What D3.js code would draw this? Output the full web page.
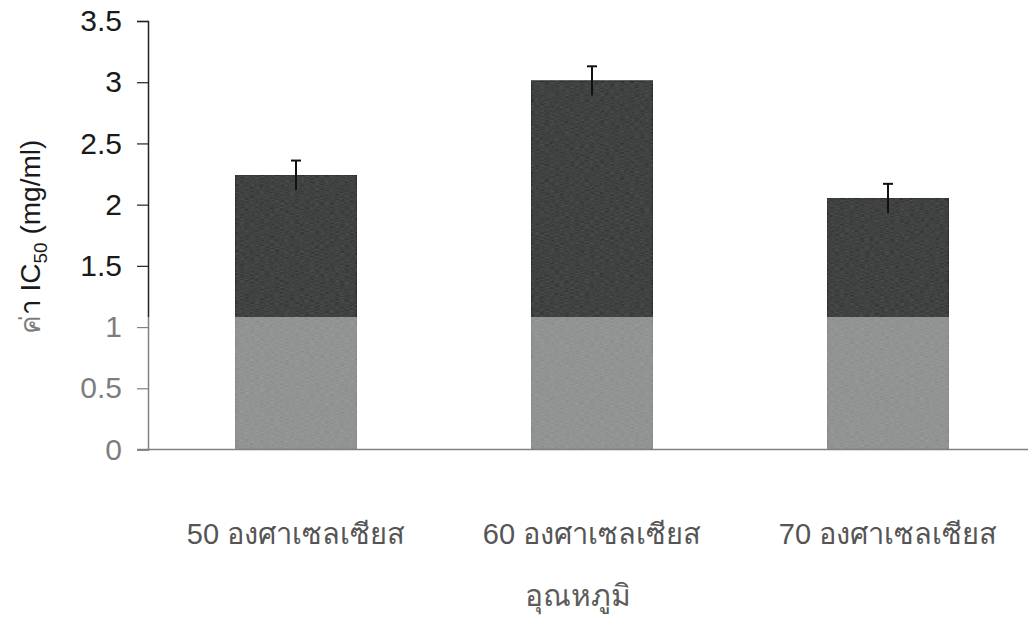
<!DOCTYPE html>
<html>
<head>
<meta charset="utf-8">
<script src="https://cdn.jsdelivr.net/npm/d3@7"></script>
<style>
  html, body { margin: 0; padding: 0; background: #fff; }
  svg { display: block; font-family: "Liberation Sans", Arial, "Noto Sans", sans-serif; }
</style>
</head>
<body>
<svg id="chart" width="1028" height="619"></svg>
<script>
// IC50 by drying temperature
const categories = ["50 องศาเซลเซียส", "60 องศาเซลเซียส", "70 องศาเซลเซียส"];
const ic50 = [2.24, 3.01, 2.05];
const ic50Err = [0.12, 0.12, 0.12];
const yTicks = [0, 0.5, 1, 1.5, 2, 2.5, 3, 3.5];

const svg = d3.select("#chart");
const W = 1028, H = 619;

const x = d3.scaleBand()
  .domain(categories)
  .range([148, 1036])
  .paddingInner(0.591)
  .paddingOuter(0.2955);

const y = d3.scaleLinear().domain([0, 3.5]).range([449.5, 21]);

const data = categories.map((c, i) => ({ c, v: ic50[i], e: ic50Err[i] }));

// subtle grain for the bar fill
const defs = svg.append("defs");
const grain = defs.append("filter").attr("id", "grain")
  .attr("x", 0).attr("y", 0).attr("width", 1).attr("height", 1);
grain.append("feTurbulence").attr("type", "fractalNoise")
  .attr("baseFrequency", "0.2 1.0").attr("numOctaves", 2).attr("seed", 3).attr("result", "n");
grain.append("feColorMatrix").attr("in", "n").attr("type", "matrix")
  .attr("values", "0 0 0 0 1  0 0 0 0 1  0 0 0 0 1  0 0 0 0.07 0").attr("result", "w");
grain.append("feComposite").attr("in", "w").attr("in2", "SourceGraphic").attr("operator", "in").attr("result", "wc");
grain.append("feMerge").selectAll("feMergeNode")
  .data(["SourceGraphic", "wc"]).join("feMergeNode").attr("in", d => d);

// bars
svg.append("g").selectAll("rect")
  .data(data)
  .join("rect")
  .attr("x", d => x(d.c))
  .attr("y", d => y(d.v))
  .attr("width", x.bandwidth())
  .attr("height", d => y(0) - y(d.v))
  .attr("fill", "#272a29")
  .attr("stroke", "#121212")
  .attr("stroke-width", 1.5)
  .attr("filter", "url(#grain)");

// error bars
const eb = svg.append("g").attr("stroke", "#111").attr("stroke-width", 2);
eb.selectAll("line.stem")
  .data(data)
  .join("line")
  .attr("class", "stem")
  .attr("x1", d => x(d.c) + x.bandwidth() / 2)
  .attr("x2", d => x(d.c) + x.bandwidth() / 2)
  .attr("y1", d => y(d.v - d.e))
  .attr("y2", d => y(d.v + d.e));
eb.selectAll("line.cap")
  .data(data)
  .join("line")
  .attr("class", "cap")
  .attr("x1", d => x(d.c) + x.bandwidth() / 2 - 5)
  .attr("x2", d => x(d.c) + x.bandwidth() / 2 + 5)
  .attr("y1", d => y(d.v + d.e))
  .attr("y2", d => y(d.v + d.e));

// y axis
const yAxis = svg.append("g")
  .attr("transform", "translate(148,0)")
  .call(d3.axisLeft(y).tickValues(yTicks).tickSize(11).tickPadding(15)
    .tickFormat(d => String(d)));
yAxis.select(".domain").attr("stroke", "#222").attr("stroke-width", 1.5);
yAxis.selectAll(".tick line").attr("stroke", "#222").attr("stroke-width", 1.2);
yAxis.selectAll(".tick text")
  .attr("font-size", 30)
  .attr("fill", "#1a1a1a")
  .attr("font-family", "'Liberation Sans', Arial, sans-serif");

// x axis baseline
svg.append("line")
  .attr("x1", 137).attr("x2", W)
  .attr("y1", y(0)).attr("y2", y(0))
  .attr("stroke", "#222").attr("stroke-width", 1.5);

// y title with subscript
const yt = svg.append("text")
  .attr("transform", "translate(40,237) rotate(-90)")
  .attr("text-anchor", "middle")
  .attr("font-size", 28)
  .attr("fill", "#1a1a1a");
yt.append("tspan").text("ค่า IC");
yt.append("tspan").attr("font-size", 19).attr("dy", 7).text("50");
yt.append("tspan").attr("dy", -7).text(" (mg/ml)");

// pale wash over the lower part of the page
svg.append("rect")
  .attr("x", 0).attr("y", 317)
  .attr("width", W).attr("height", H - 317)
  .attr("fill", "#fff")
  .attr("fill-opacity", 0.43);

// category labels
svg.append("g").selectAll("text")
  .data(categories)
  .join("text")
  .attr("x", d => x(d) + x.bandwidth() / 2)
  .attr("y", 544)
  .attr("text-anchor", "middle")
  .attr("font-size", 29)
  .attr("fill", "#555")
  .text(d => d);

// x title
svg.append("text")
  .attr("x", 578).attr("y", 606)
  .attr("text-anchor", "middle")
  .attr("font-size", 30)
  .attr("fill", "#5c5c5c")
  .text("อุณหภูมิ");
</script>
</body>
</html>
